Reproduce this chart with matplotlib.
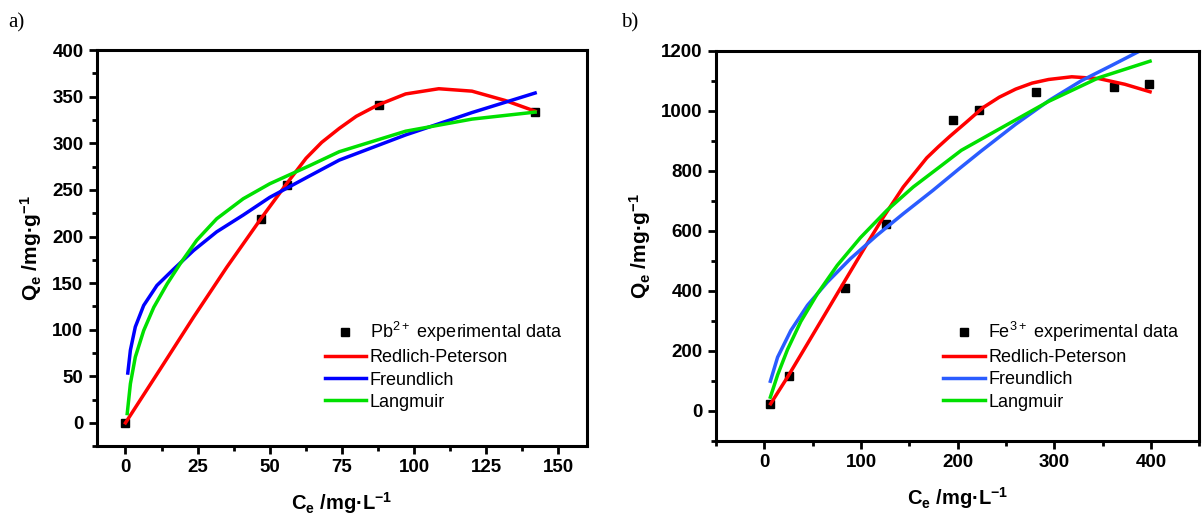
import matplotlib
matplotlib.use("Agg")
import matplotlib.pyplot as plt
from matplotlib.ticker import MultipleLocator, AutoMinorLocator

plt.rcParams['font.family'] = ['Liberation Sans', 'DejaVu Sans']
plt.rcParams['mathtext.default'] = 'regular'

# ---- panel a) Pb2+ ----
pb_ce = [0, 47, 56, 88, 142]
pb_qe = [0, 219, 255, 341, 334]

pb_rp_c = [0, 12.1, 23.6, 35.1, 47.1, 55.7, 62.6, 68, 74.1, 80, 87.4, 97.1, 108.6, 120.1, 131.6, 142]
pb_rp_q = [0, 58, 113.5, 167, 219.8, 256, 284, 301, 316, 329, 341, 353, 358.6, 356, 346, 334.5]

pb_fr_c = [0.8, 1.7, 3.4, 6.3, 10.9, 16.7, 23.6, 31.6, 40.8, 50, 63.8, 74.1, 97.1, 120.1, 142]
pb_fr_q = [53.5, 78, 103, 126, 147.5, 165, 185, 205, 223, 242, 265, 282, 309, 333, 354]

pb_la_c = [0.6, 1.7, 3.4, 6.3, 9.8, 14.4, 19, 24.7, 31.6, 40.8, 50, 63.8, 74.1, 97.1, 120.1, 142]
pb_la_q = [10, 42, 70.6, 99, 124, 149, 171, 196, 219, 240.5, 256.6, 276, 291, 313, 326, 333.5]

# ---- panel b) Fe3+ ----
fe_ce = [6, 25, 83, 126, 195, 222, 281, 362, 398]
fe_qe = [22, 116, 408, 622, 968, 1001, 1064, 1078, 1088]

fe_rp_c = [6.5, 24, 44.6, 65.1, 85.6, 106.2, 123.2, 143.7, 156, 168, 180, 192, 209, 226,
           243, 260, 277, 294, 318, 346, 373, 399]
fe_rp_q = [24, 113, 224, 335, 446, 557, 646, 746, 795, 843, 880, 915, 962, 1010,
           1045, 1072, 1092, 1104, 1113, 1107, 1088, 1063]

fe_fr_c = [6.2, 13.7, 27.4, 44.6, 65.1, 89, 116.4, 143.7, 174.5, 202, 224, 260, 295, 328, 360, 389]
fe_fr_q = [99, 179, 268, 352, 429, 507, 585, 657, 735, 808, 865, 955, 1035, 1100, 1152, 1200]

fe_la_c = [6.2, 13.7, 24, 37.7, 54.8, 75.4, 99.3, 126.7, 154, 181.4, 203.7, 243, 294, 346, 399]
fe_la_q = [46, 120, 205, 298, 390, 485, 577, 668, 746, 813, 868, 939, 1031, 1110, 1165]

RED = '#ff0000'
BLUE_A = '#0000ff'
BLUE_B = '#2a5cff'
GREEN = '#00e000'

fig = plt.figure(figsize=(12.02, 5.17), dpi=100)
axa = fig.add_axes([0.0804, 0.137, 0.408, 0.766])
axb = fig.add_axes([0.5957, 0.147, 0.4021, 0.755])


def style(ax, xlim, ylim, xmaj, ymaj):
    ax.set_xlim(*xlim)
    ax.set_ylim(*ylim)
    ax.xaxis.set_major_locator(MultipleLocator(xmaj))
    ax.yaxis.set_major_locator(MultipleLocator(ymaj))
    ax.xaxis.set_minor_locator(AutoMinorLocator(2))
    ax.yaxis.set_minor_locator(AutoMinorLocator(2))
    for s in ax.spines.values():
        s.set_linewidth(2.2)
    ax.tick_params(which='both', direction='out', width=2, top=False, right=False)
    ax.tick_params(which='major', length=6, labelsize=13.5)
    ax.tick_params(which='minor', length=3.5)
    for lab in ax.get_xticklabels() + ax.get_yticklabels():
        lab.set_fontweight('bold')
    ax.set_xlabel('C$_e$ /mg\u00b7L$^{-1}$', fontsize=14.5, fontweight='bold', labelpad=10)
    ax.set_ylabel('Q$_e$ /mg\u00b7g$^{-1}$', fontsize=15, fontweight='bold', labelpad=6)


def legend(ax, anchor):
    h, l = ax.get_legend_handles_labels()
    ax.legend([h[3], h[0], h[1], h[2]], [l[3], l[0], l[1], l[2]], frameon=False,
              loc='lower right', bbox_to_anchor=anchor, fontsize=13,
              handlelength=2.3, handletextpad=0.2, labelspacing=0.28, borderpad=0)


# panel a
axa.plot(pb_rp_c, pb_rp_q, color=RED, lw=2.5, label='Redlich-Peterson', zorder=2)
axa.plot(pb_fr_c, pb_fr_q, color=BLUE_A, lw=2.5, label='Freundlich', zorder=2)
axa.plot(pb_la_c, pb_la_q, color=GREEN, lw=2.5, label='Langmuir', zorder=2)
axa.plot(pb_ce, pb_qe, 's', color='black', ms=6, ls='none',
         label='Pb$^{2+}$ experimental data', zorder=1)
style(axa, (-10, 160), (-25, 400), 25, 50)
legend(axa, (0.967, 0.067))

# panel b
axb.plot(fe_rp_c, fe_rp_q, color=RED, lw=2.5, label='Redlich-Peterson', zorder=2)
axb.plot(fe_fr_c, fe_fr_q, color=BLUE_B, lw=2.5, label='Freundlich', zorder=2)
axb.plot(fe_la_c, fe_la_q, color=GREEN, lw=2.5, label='Langmuir', zorder=2)
axb.plot(fe_ce, fe_qe, 's', color='black', ms=6, ls='none',
         label='Fe$^{3+}$ experimental data', zorder=1)
style(axb, (-50, 450), (-100, 1200), 100, 200)
legend(axb, (0.977, 0.055))

fig.text(0.007, 0.955, 'a)', fontsize=15, family='Liberation Serif', va='center')
fig.text(0.517, 0.955, 'b)', fontsize=15, family='Liberation Serif', va='center')

fig.savefig('out.png', dpi=100)
